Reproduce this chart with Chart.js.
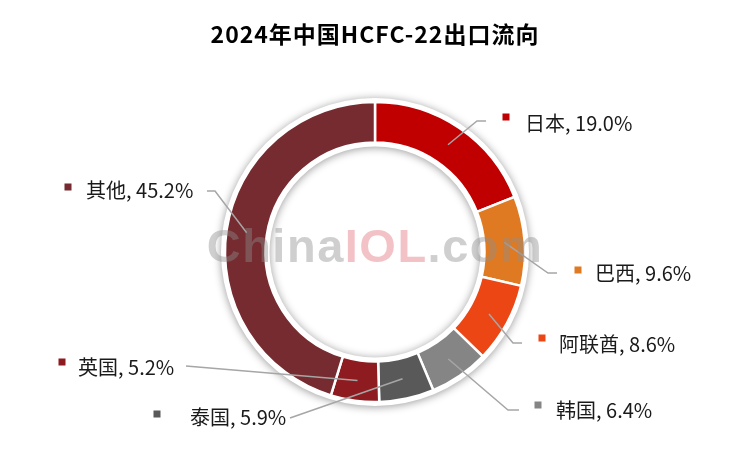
<!DOCTYPE html>
<html>
<head>
<meta charset="utf-8">
<title>2024年中国HCFC-22出口流向</title>
<script src="https://cdn.jsdelivr.net/npm/chart.js@4.4.3/dist/chart.umd.min.js"></script>
<style>
  html, body { margin: 0; padding: 0; background: #fff; }
  #wrap { width: 750px; height: 450px; position: relative; }
</style>
</head>
<body>
<div id="wrap"><canvas id="pie"></canvas></div>
<script>
// data
const countries = ['日本', '巴西', '阿联酋', '韩国', '泰国', '英国', '其他'];
const shares = [19.0, 9.6, 8.6, 6.4, 5.9, 5.2, 45.2];
const colors = ['#C00000', '#E07A22', '#EB4614', '#858585', '#595959', '#8D1B1F', '#752B2F'];

// label layout (annotation positions only)
const labelText = [[525, 123], [595, 273], [559, 344], [556, 410], [190, 417], [78, 367], [86, 190]];
const labelBox = [[506, 117], [578, 270], [542, 338], [538, 405], [157, 414], [62, 362], [68, 187]];
const leaderBend = [[477, 121], [548, 273], [513, 343], [508, 410], [290, 418], [186, 366], [215, 191]];
const leaderEnd = [[486, 121], [557, 273], [522, 343], [519, 410], [290, 418], [186, 366], [207, 191]];

const FONT = '"Noto Sans CJK SC", "Microsoft YaHei", sans-serif';

const ringShadow = {
  id: 'ringShadow',
  beforeDatasetsDraw(chart) {
    const arc = chart.getDatasetMeta(0).data[0];
    if (!arc) return;
    const ctx = chart.ctx;
    ctx.save();
    ctx.beginPath();
    ctx.arc(arc.x, arc.y, arc.outerRadius + 4, 0, Math.PI * 2);
    ctx.arc(arc.x, arc.y, arc.innerRadius - 4, 0, Math.PI * 2, true);
    ctx.fillStyle = '#fff';
    ctx.shadowColor = 'rgba(0,0,0,0.4)';
    ctx.shadowBlur = 8;
    ctx.shadowOffsetY = 1;
    ctx.fill();
    ctx.restore();
  },
  afterDatasetsDraw(chart) {
    const ctx = chart.ctx;
    const meta = chart.getDatasetMeta(0);
    ctx.save();
    // leader lines
    ctx.strokeStyle = '#A6A6A6';
    ctx.lineWidth = 1.5;
    meta.data.forEach((arc, i) => {
      const mid = (arc.startAngle + arc.endAngle) / 2;
      const r = (arc.innerRadius + arc.outerRadius) / 2;
      const x0 = arc.x + Math.cos(mid) * r;
      const y0 = arc.y + Math.sin(mid) * r;
      ctx.beginPath();
      ctx.moveTo(x0, y0);
      ctx.lineTo(leaderBend[i][0], leaderBend[i][1]);
      ctx.lineTo(leaderEnd[i][0], leaderEnd[i][1]);
      ctx.stroke();
    });
    // labels
    ctx.font = '20px ' + FONT;
    ctx.textBaseline = 'middle';
    ctx.textAlign = 'left';
    countries.forEach((c, i) => {
      ctx.fillStyle = colors[i];
      ctx.fillRect(labelBox[i][0] - 3.5, labelBox[i][1] - 3.5, 7, 7);
      ctx.fillStyle = '#1a1a1a';
      ctx.fillText(c + ', ' + shares[i].toFixed(1) + '%', labelText[i][0], labelText[i][1]);
    });
    ctx.restore();
  },
  afterDraw(chart) {
    const ctx = chart.ctx;
    const arc = chart.getDatasetMeta(0).data[0];
    ctx.save();
    // title
    ctx.font = 'bold 23px ' + FONT;
    ctx.fillStyle = '#000';
    ctx.textAlign = 'center';
    ctx.textBaseline = 'middle';
    ctx.letterSpacing = '1px';
    ctx.fillText('2024年中国HCFC-22出口流向', 375, 34);
    // watermark
    const parts = [['China', 'rgba(140,140,140,0.42)'], ['IOL', 'rgba(225,110,120,0.42)'], ['.com', 'rgba(140,140,140,0.42)']];
    ctx.font = 'bold 47px "Liberation Sans", Arial, sans-serif';
    ctx.letterSpacing = '1.5px';
    ctx.textAlign = 'left';
    let total = 0;
    parts.forEach(p => { total += ctx.measureText(p[0]).width; });
    let x = arc.x - total / 2;
    parts.forEach(p => {
      ctx.fillStyle = p[1];
      ctx.fillText(p[0], x, arc.y - 3);
      x += ctx.measureText(p[0]).width;
    });
    ctx.restore();
  }
};

new Chart(document.getElementById('pie'), {
  type: 'doughnut',
  data: {
    labels: countries,
    datasets: [{
      data: shares,
      backgroundColor: colors,
      borderColor: '#fff',
      borderWidth: 2.5
    }]
  },
  options: {
    responsive: true,
    maintainAspectRatio: false,
    animation: false,
    radius: 150,
    cutout: '73%',
    layout: { padding: { top: 54, bottom: 0, left: 0, right: 0 } },
    plugins: {
      legend: { display: false },
      tooltip: { enabled: false },
      title: { display: false }
    }
  },
  plugins: [ringShadow]
});
</script>
</body>
</html>
